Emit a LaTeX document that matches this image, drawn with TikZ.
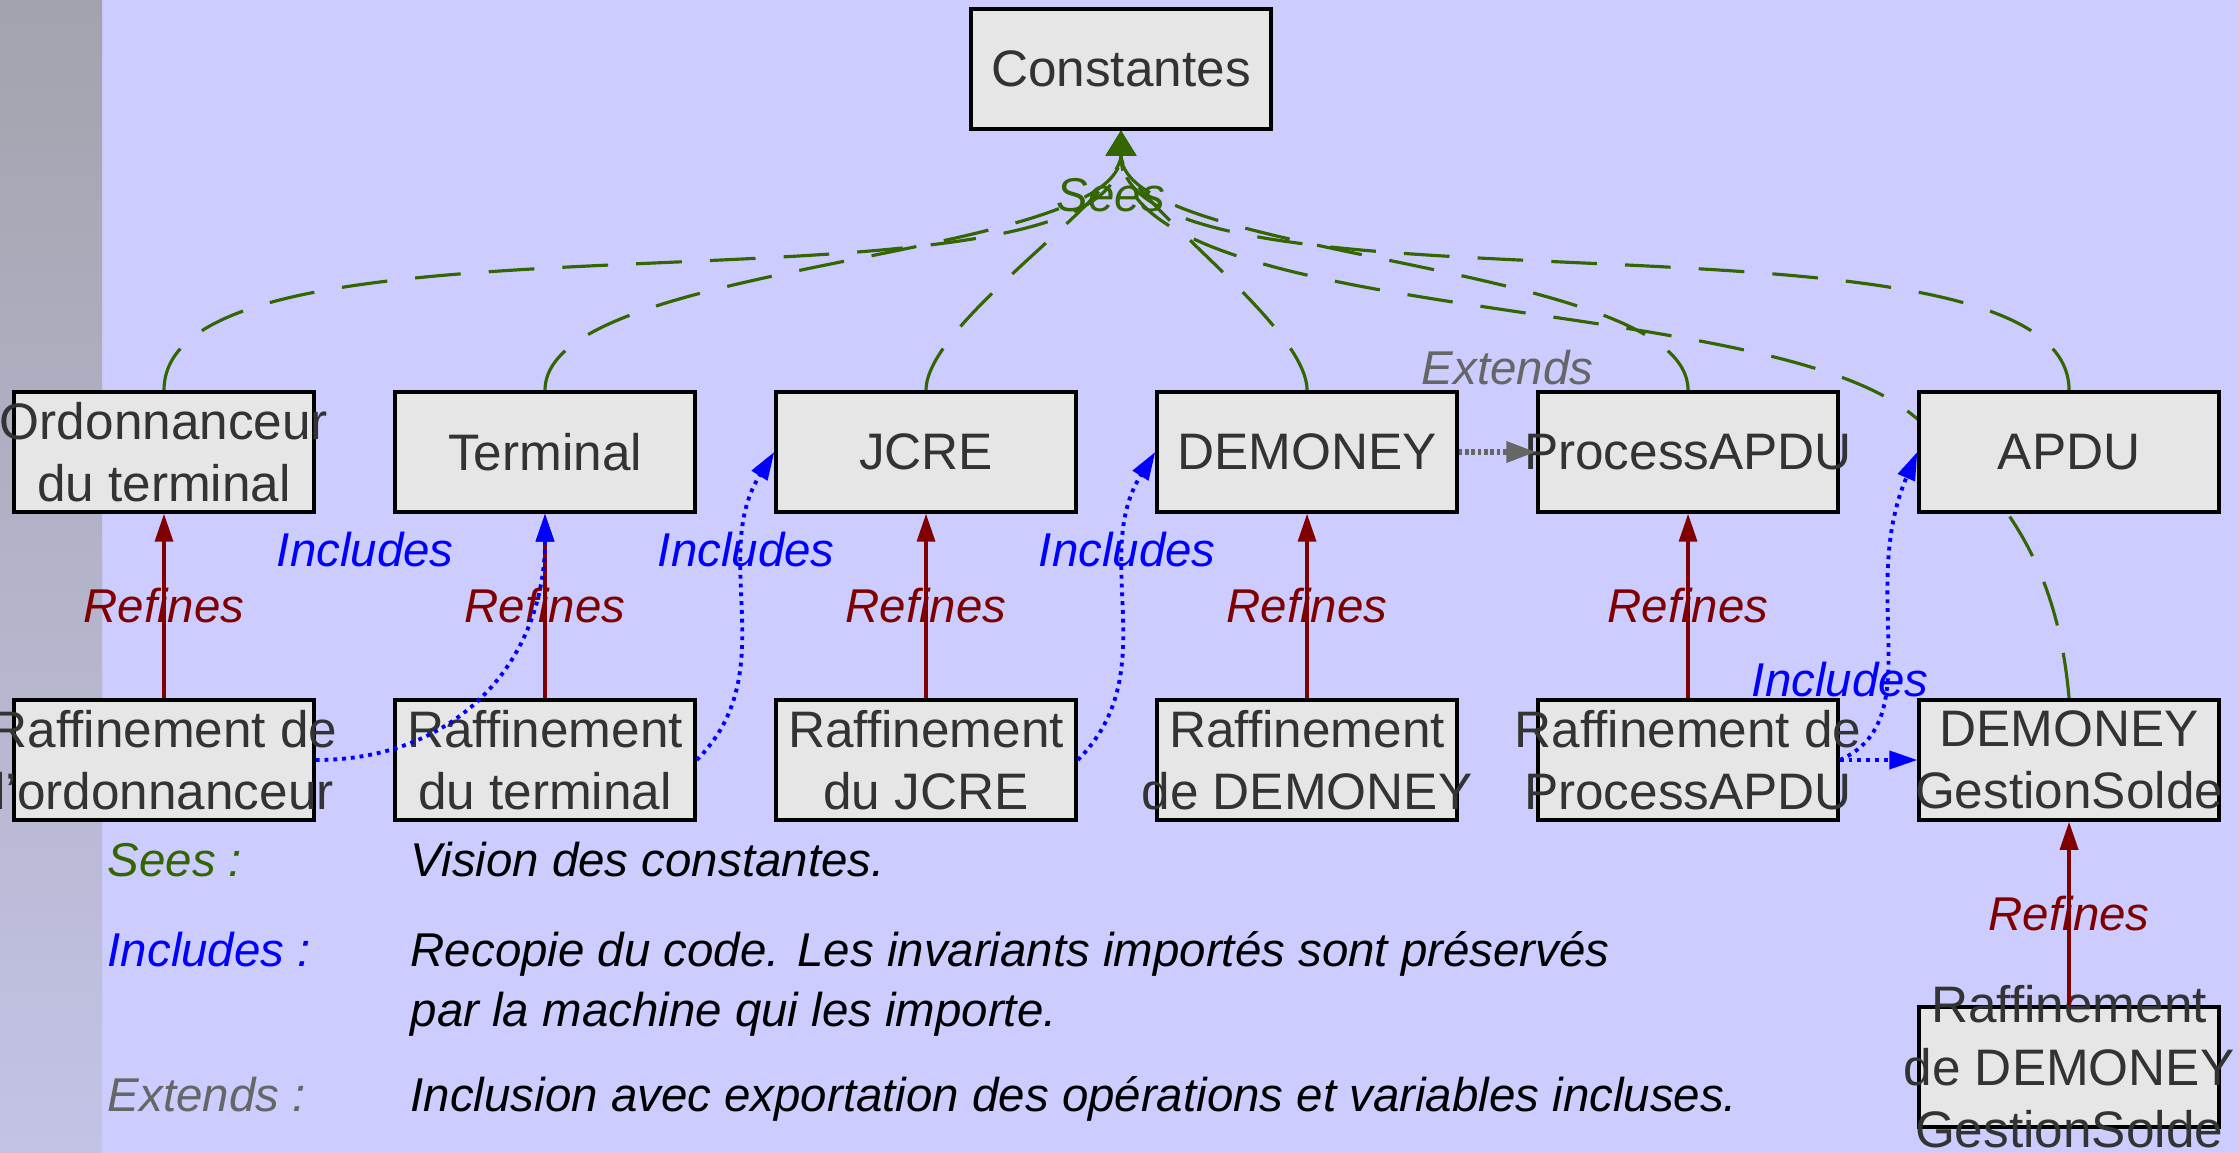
\documentclass[tikz,border=0pt]{standalone}
\usepackage{fontspec}
\setmainfont{Liberation Sans}
\usetikzlibrary{positioning,arrows.meta}

\definecolor{slidebg}{RGB}{204,204,255}
\definecolor{bartop}{RGB}{163,163,173}
\definecolor{barbot}{RGB}{195,195,230}
\definecolor{boxgray}{RGB}{230,230,230}
\definecolor{textgray}{RGB}{51,51,51}
\definecolor{seesgreen}{RGB}{51,102,0}
\definecolor{refred}{RGB}{128,0,0}
\definecolor{extgray}{RGB}{102,102,102}

\pgfdeclarelayer{bg}
\pgfdeclarelayer{links}
\pgfsetlayers{bg,links,main}

\tikzstyle{machine} = [draw=black,line width=1pt,fill=boxgray,minimum width=3cm,minimum height=1.2cm,inner sep=0pt]
\tikzstyle{boxtext} = [text=textgray,align=center,inner sep=0pt,font=\fontsize{14.6}{17.8}\selectfont]
\tikzstyle{linklabel} = [inner sep=0pt,font=\fontsize{13.5}{17.1}\selectfont\itshape]
\tikzstyle{legendtext} = [linklabel,anchor=base west,align=left]
\tikzstyle{sees} = [seesgreen,line width=0.9pt,dash pattern=on 13pt off 8pt,-{Triangle[length=2.5mm,width=3mm]}]
\tikzstyle{refines} = [refred,line width=1pt,-{Triangle[length=2.8mm,width=1.8mm]}]
\tikzstyle{includes} = [blue,line width=1.1pt,dash pattern=on 1.1pt off 1.4pt,-{Triangle[length=2.8mm,width=1.8mm]}]
\tikzstyle{extends} = [extgray,line width=1.8pt,dash pattern=on 1pt off 0.8pt,-{Triangle[length=3mm,width=2mm]}]

\begin{document}
\begin{tikzpicture}[node distance=1.845cm and 0.775cm]
  \useasboundingbox (0,0) rectangle (22.39,-11.53);
  \begin{pgfonlayer}{bg}
    \fill[slidebg] (0,0) rectangle (22.39,-11.53);
    \shade[top color=bartop,bottom color=barbot] (0,0) rectangle (1.02,-11.53);
  \end{pgfonlayer}

  \node[machine,label={[boxtext]center:Constantes}] (const) at (11.21,-0.69) {};
  \node[machine,label={[boxtext]center:Ordonnanceur\\du terminal}] (ord) at (1.64,-4.52) {};
  \node[machine,label={[boxtext]center:Terminal},right=of ord] (term) {};
  \node[machine,label={[boxtext]center:JCRE},right=of term] (jcre) {};
  \node[machine,label={[boxtext]center:DEMONEY},right=of jcre] (demo) {};
  \node[machine,label={[boxtext]center:ProcessAPDU},right=of demo] (papdu) {};
  \node[machine,label={[boxtext]center:APDU},right=of papdu] (apdu) {};

  \node[machine,label={[boxtext]center:Raffinement de\\l'ordonnanceur},below=of ord] (rord) {};
  \node[machine,label={[boxtext]center:Raffinement\\du terminal},below=of term] (rterm) {};
  \node[machine,label={[boxtext]center:Raffinement\\du JCRE},below=of jcre] (rjcre) {};
  \node[machine,label={[boxtext]center:Raffinement\\de DEMONEY},below=of demo] (rdemo) {};
  \node[machine,label={[boxtext]center:Raffinement de\\ProcessAPDU},below=of papdu] (rpapdu) {};
  \node[machine,label={[boxtext]center:DEMONEY\\GestionSolde},below=of apdu] (gs) {};
  \node[machine,label={[boxtext]center:Raffinement\\de DEMONEY\\GestionSolde},below=1.835cm of gs] (rgs) {};

  \coordinate (gsbend) at (19.10,-4.13);

  \begin{pgfonlayer}{links}
    \draw[sees] (ord.north) to[out=90,in=-90,looseness=0.53] (const.south);
    \draw[sees] (term.north) to[out=90,in=-90,looseness=0.53] (const.south);
    \draw[sees] (jcre.north) to[out=90,in=-90,looseness=0.53] (const.south);
    \draw[sees] (demo.north) to[out=90,in=-90,looseness=0.53] (const.south);
    \draw[sees] (papdu.north) to[out=90,in=-90,looseness=0.53] (const.south);
    \draw[sees] (apdu.north) to[out=90,in=-90,looseness=0.53] (const.south);
    \draw[sees] (gs.north) to[out=95,in=-38.5] (gsbend) to[out=141.5,in=-90,looseness=0.6] (const.south);
  \end{pgfonlayer}
  \node[linklabel,text=seesgreen] (seeslbl) at ([shift={(-0.1,-0.64)}]const.south) {Sees};

  \draw[refines] (rord) -- node[linklabel,text=refred] {Refines} (ord);
  \draw[refines] (rterm) -- node[linklabel,text=refred] {Refines} (term);
  \draw[refines] (rjcre) -- node[linklabel,text=refred] {Refines} (jcre);
  \draw[refines] (rdemo) -- node[linklabel,text=refred] {Refines} (demo);
  \draw[refines] (rpapdu) -- node[linklabel,text=refred] {Refines} (papdu);
  \draw[refines] (rgs) -- node[linklabel,text=refred] {Refines} (gs);

  \draw[includes] (rord.east) to[out=0,in=-90,looseness=1.1] (term.south);
  \draw[includes] (rterm.east) to[out=45,in=238] (jcre.west);
  \draw[includes] (rjcre.east) to[out=45,in=238] (demo.west);
  \draw[includes] (rpapdu.east) .. controls +(0.9,0.4) and +(-0.6,-1.4) .. (apdu.west);
  \draw[includes] (rpapdu.east) -- (gs.west);
  \node[linklabel,text=blue] (incl1) at ([shift={(-0.28,-0.36)}]term.south west) {Includes};
  \node[linklabel,text=blue] (incl2) at ([shift={(-0.28,-0.36)}]jcre.south west) {Includes};
  \node[linklabel,text=blue] (incl3) at ([shift={(-0.28,-0.36)}]demo.south west) {Includes};
  \node[linklabel,text=blue] (incl4) at ([shift={(-0.77,0.19)}]gs.north west) {Includes};

  \draw[extends] (demo) -- node[linklabel,text=extgray,xshift=1mm,yshift=8.4mm] {Extends} (papdu);

  \node[legendtext,text=seesgreen] (lsees) at (1.07,-8.77) {Sees :};
  \node[legendtext] (dsees) at (4.10,-8.77) {Vision des constantes.};
  \node[legendtext,text=blue] (lincl) at (1.07,-9.67) {Includes :};
  \node[legendtext] (dincl) at (4.10,-10.27) {Recopie du code. Les invariants importés sont préservés\\par la machine qui les importe.};
  \node[legendtext,text=extgray] (lext) at (1.07,-11.12) {Extends :};
  \node[legendtext] (dext) at (4.10,-11.12) {Inclusion avec exportation des opérations et variables incluses.};
\end{tikzpicture}
\end{document}
